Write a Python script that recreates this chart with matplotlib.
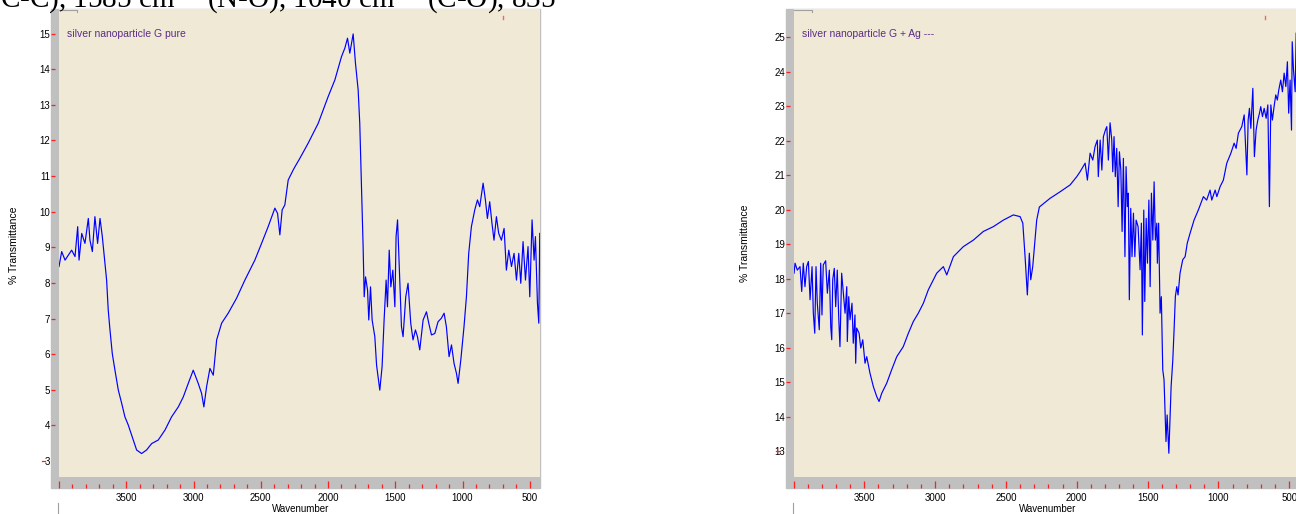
import matplotlib
matplotlib.use("Agg")
import matplotlib.pyplot as plt
from matplotlib.lines import Line2D
from matplotlib.patches import Rectangle

# spectrum 1: silver nanoparticle G pure  (wavenumber, %T)
wn_pure = [4000, 3980, 3955, 3906, 3881, 3861, 3851, 3831, 3807, 3782, 3770, 3752, 3733, 3713, 3695,
           3678, 3658, 3646, 3634, 3621, 3604, 3584, 3559, 3534, 3510, 3485, 3448, 3423, 3386, 3349,
           3311, 3262, 3212, 3163, 3113, 3076, 3039, 3002, 2965, 2940, 2923, 2903, 2878, 2853, 2828,
           2791, 2742, 2680, 2618, 2544, 2494, 2445, 2395, 2375, 2358, 2341, 2321, 2296, 2259, 2246,
           2209, 2148, 2073, 1999, 1949, 1900, 1875, 1855, 1838, 1813, 1796, 1776, 1764, 1751, 1739,
           1731, 1721, 1706, 1697, 1684, 1672, 1652, 1639, 1615, 1598, 1583, 1568, 1558, 1545, 1533,
           1518, 1503, 1494, 1483, 1466, 1454, 1442, 1422, 1405, 1385, 1368, 1350, 1335, 1318, 1293,
           1268, 1251, 1231, 1206, 1182, 1157, 1137, 1120, 1100, 1082, 1063, 1045, 1033, 1013, 989,
           971, 954, 934, 909, 889, 872, 847, 830, 815, 798, 781, 766, 748, 731, 711,
           691, 674, 656, 636, 617, 599, 582, 567, 550, 532, 513, 500, 483, 468, 458,
           443, 433, 426]
tr_pure = [8.46, 8.88, 8.64, 8.92, 8.74, 9.58, 8.64, 9.39, 9.11, 9.81, 9.20, 8.88, 9.86, 9.11, 9.81,
           9.30, 8.55, 8.08, 7.24, 6.68, 6.02, 5.55, 4.99, 4.62, 4.24, 4.01, 3.59, 3.31, 3.21, 3.31,
           3.49, 3.59, 3.87, 4.24, 4.52, 4.80, 5.18, 5.55, 5.18, 4.90, 4.52, 5.08, 5.60, 5.41, 6.40,
           6.87, 7.15, 7.57, 8.08, 8.64, 9.11, 9.58, 10.10, 9.95, 9.35, 10.05, 10.19, 10.89, 11.17, 11.26,
           11.50, 11.92, 12.48, 13.23, 13.70, 14.35, 14.59, 14.87, 14.45, 14.99, 14.17, 13.42, 12.48, 10.70, 9.02,
           7.61, 8.17, 7.80, 6.96, 7.89, 6.96, 6.49, 5.69, 4.99, 5.65, 6.96, 8.08, 7.33, 8.92, 7.89,
           8.36, 7.33, 9.30, 9.77, 7.99, 6.77, 6.49, 7.61, 7.99, 6.87, 6.40, 6.68, 6.49, 6.12, 6.96,
           7.19, 6.87, 6.54, 6.58, 6.91, 7.01, 7.15, 6.77, 5.93, 6.26, 5.74, 5.46, 5.18, 5.83, 6.77,
           7.61, 8.83, 9.58, 10.05, 10.33, 10.14, 10.80, 10.33, 9.81, 10.28, 9.67, 9.20, 9.86, 9.39, 9.20,
           9.53, 8.36, 8.92, 8.46, 8.83, 8.08, 8.83, 7.99, 9.16, 8.08, 9.02, 7.61, 9.77, 8.64, 9.30,
           7.43, 6.87, 9.39]

# spectrum 2: silver nanoparticle G + Ag
wn_ag = [3996, 3989, 3973, 3954, 3942, 3931, 3919, 3907, 3895, 3883, 3869, 3860, 3850, 3841, 3832,
         3818, 3808, 3799, 3790, 3773, 3761, 3747, 3737, 3730, 3723, 3712, 3702, 3691, 3681, 3672,
         3660, 3648, 3636, 3624, 3620, 3610, 3601, 3587, 3578, 3566, 3561, 3554, 3537, 3525, 3511,
         3495, 3483, 3460, 3436, 3412, 3396, 3377, 3342, 3307, 3271, 3225, 3189, 3154, 3119, 3083,
         3048, 2989, 2942, 2918, 2871, 2801, 2730, 2660, 2589, 2518, 2448, 2400, 2381, 2365, 2349,
         2335, 2325, 2311, 2295, 2283, 2264, 2189, 2118, 2047, 2000, 1977, 1941, 1925, 1906, 1887,
         1871, 1855, 1848, 1835, 1823, 1812, 1798, 1788, 1777, 1765, 1753, 1746, 1737, 1728, 1718,
         1708, 1699, 1689, 1680, 1671, 1660, 1652, 1643, 1636, 1629, 1619, 1610, 1600, 1590, 1581,
         1567, 1553, 1544, 1537, 1527, 1520, 1510, 1501, 1491, 1482, 1473, 1463, 1454, 1445, 1435,
         1431, 1422, 1412, 1403, 1393, 1384, 1370, 1362, 1350, 1341, 1334, 1322, 1313, 1304, 1294,
         1285, 1271, 1252, 1235, 1220, 1200, 1172, 1142, 1106, 1083, 1059, 1047, 1023, 1011, 988,
         965, 941, 912, 889, 875, 859, 835, 818, 799, 790, 781, 771, 757, 746, 734,
         722, 710, 701, 689, 677, 663, 651, 640, 630, 619, 607, 595, 584, 574, 560,
         548, 536, 524, 513, 504, 494, 484, 479, 470, 458, 451]
tr_ag = [18.16, 18.45, 18.25, 18.35, 17.63, 18.45, 17.77, 18.35, 18.50, 17.39, 18.35, 17.00, 16.42, 18.35, 17.29,
         16.52, 18.45, 16.95, 18.40, 18.52, 17.58, 18.25, 16.61, 16.23, 17.97, 18.30, 17.19, 18.25, 16.90, 16.03,
         18.16, 17.58, 17.00, 17.77, 16.18, 17.48, 16.81, 17.29, 16.13, 16.95, 15.55, 16.57, 16.42, 15.99, 16.23,
         15.55, 15.74, 15.26, 14.87, 14.58, 14.44, 14.68, 14.97, 15.36, 15.74, 16.03, 16.42, 16.76, 17.00, 17.29,
         17.68, 18.16, 18.35, 18.11, 18.64, 18.93, 19.12, 19.37, 19.51, 19.70, 19.85, 19.80, 19.61, 18.64, 17.53,
         18.74, 17.97, 18.35, 19.12, 19.70, 20.08, 20.33, 20.52, 20.72, 20.96, 21.10, 21.35, 20.86, 21.64, 21.44,
         21.83, 22.02, 20.96, 22.02, 21.15, 22.12, 22.31, 22.41, 21.44, 22.52, 22.02, 21.10, 22.12, 20.96, 21.78,
         20.09, 21.68, 21.15, 19.37, 21.49, 18.64, 21.25, 20.09, 20.48, 17.39, 20.04, 18.64, 19.90, 18.64, 19.70,
         19.51, 18.26, 19.61, 16.37, 19.99, 17.34, 19.75, 18.45, 20.28, 17.77, 20.48, 19.12, 20.81, 19.12, 19.61,
         18.45, 19.61, 17.00, 17.48, 15.36, 15.07, 13.28, 14.05, 12.94, 14.00, 14.87, 15.65, 16.52, 17.48, 17.77,
         17.53, 18.16, 18.55, 18.64, 19.03, 19.32, 19.70, 19.99, 20.38, 20.28, 20.57, 20.28, 20.57, 20.38, 20.67,
         20.86, 21.35, 21.64, 21.93, 21.78, 22.22, 22.41, 22.75, 21.01, 22.60, 22.94, 22.36, 23.52, 21.54, 22.31,
         22.60, 22.80, 22.99, 22.70, 22.94, 22.65, 23.04, 20.09, 23.04, 22.60, 22.99, 23.33, 23.18, 23.47, 23.76,
         23.42, 23.96, 23.57, 24.29, 22.80, 23.76, 22.31, 24.87, 24.05, 23.42, 25.12]

x_major = [4000, 3500, 3000, 2500, 2000, 1500, 1000, 500]
x_labels = ["", "3500", "3000", "2500", "2000", "1500", "1000", "500"]
x_minor = list(range(3900, 400, -100))

W, H = 1296, 514
BEIGE = "#efe9d6"
GREY = "#c0c0c0"
PURPLE = "#5c2d86"
TICKRED = "#ff2020"
plt.rcParams['font.family'] = ['Liberation Sans', 'DejaVu Sans']
plt.rcParams['mathtext.fontset'] = 'stix'

fig = plt.figure(figsize=(W / 100, H / 100), dpi=100)


def fx(px):
    return px / W


def fy(py):
    return 1 - py / H


def panel(x0, x1, xband, ylim, yticks, wn, tr, title, mark_x):
    top, bot, bandbot = 9, 476.7, 487.7
    # grey frame behind everything
    fig.patches.append(Rectangle((fx(xband), fy(bandbot)), (x1 - xband) / W, (bandbot - top) / H,
                                 transform=fig.transFigure, color=GREY, zorder=-5))
    ax = fig.add_axes([fx(x0), fy(bot), (x1 - x0) / W, (bot - top) / H])
    ax.set_facecolor(BEIGE)
    for s in ax.spines.values():
        s.set_visible(False)
    ax.set_xlim(4000, 424)
    ax.set_ylim(*ylim)
    ax.set_xticks([])
    ax.set_yticks([])
    ax.plot(wn, tr, color='#0000ff', linewidth=0.85)

    # x band with ticks
    axb = fig.add_axes([fx(x0), fy(bandbot), (x1 - x0) / W, (bandbot - bot) / H])
    axb.patch.set_visible(False)
    for s in axb.spines.values():
        s.set_visible(False)
    axb.set_xlim(4000, 424)
    axb.set_yticks([])
    axb.set_xticks(x_major, x_labels)
    axb.set_xticks(x_minor, minor=True)
    axb.tick_params(axis='x', which='major', direction='in', length=5, width=0.9, color=TICKRED,
                    pad=3.5, labelsize=7)
    axb.tick_params(axis='x', which='minor', direction='in', length=3, width=0.9, color=TICKRED)

    # y band with ticks
    ayb = fig.add_axes([fx(xband), fy(bot), (x0 - xband) / W, (bot - top) / H])
    ayb.patch.set_visible(False)
    for s in ayb.spines.values():
        s.set_visible(False)
    ayb.set_xticks([])
    ayb.set_ylim(*ylim)
    ayb.set_yticks(yticks, [str(v) for v in yticks])
    ayb.tick_params(axis='y', direction='in', length=3.2, width=0.9, color=TICKRED, pad=0.5,
                    labelsize=7)
    ayb.yaxis.get_major_ticks()[0].tick1line.set_visible(False)
    # stray red dash by the lowest label
    ylow = fy(bot - (yticks[0] - ylim[0]) / (ylim[1] - ylim[0]) * (bot - top))
    fig.lines.append(Line2D([fx(xband - 9.5), fx(xband - 6)], [ylow, ylow], transform=fig.transFigure,
                            color=TICKRED, linewidth=0.9))

    fig.text(fx(x0 + 8), fy(34), title, color=PURPLE, fontsize=7.5, va='center', ha='left')
    # little tab at top-left, red mark at top-right, stub under the panel
    fig.lines.append(Line2D([fx(x0), fx(x0 + 18), fx(x0 + 18)], [fy(10), fy(10), fy(12)],
                            transform=fig.transFigure, color='#a0a0a0', linewidth=0.8))
    fig.lines.append(Line2D([fx(mark_x)] * 2, [fy(16), fy(19)],
                            transform=fig.transFigure, color='#ff6060', linewidth=1))
    fig.lines.append(Line2D([fx(x0 - 1)] * 2, [fy(503), fy(514)], transform=fig.transFigure,
                            color='#a0a0a0', linewidth=0.8))
    return ax


panel(59, 540, 51, (2.56, 15.69), list(range(3, 16)), wn_pure, tr_pure,
      "silver nanoparticle G pure", 503.5)
panel(793.5, 1300, 785.7, (12.26, 25.82), list(range(13, 26)), wn_ag, tr_ag,
      "silver nanoparticle G + Ag ---", 1265)

fig.text(fx(14), fy(245), "% Transmittance", rotation=90, fontsize=7.5, ha='center', va='center')
fig.text(fx(745), fy(243), "% Transmittance", rotation=90, fontsize=7.5, ha='center', va='center')
fig.text(fx(301), fy(509), "Wavenumber", fontsize=7, ha='center', va='center')
fig.text(fx(1048), fy(509), "Wavenumber", fontsize=7, ha='center', va='center')

# cut-off line of the surrounding document text
fig.text(fx(0), fy(7.5), r"C-C), 1585 cm$^{-1}$ (N-O), 1040 cm$^{-1}$ (C-O), 835",
         family='Liberation Serif', fontsize=21, ha='left', va='baseline')

fig.savefig("out.png", dpi=100)
